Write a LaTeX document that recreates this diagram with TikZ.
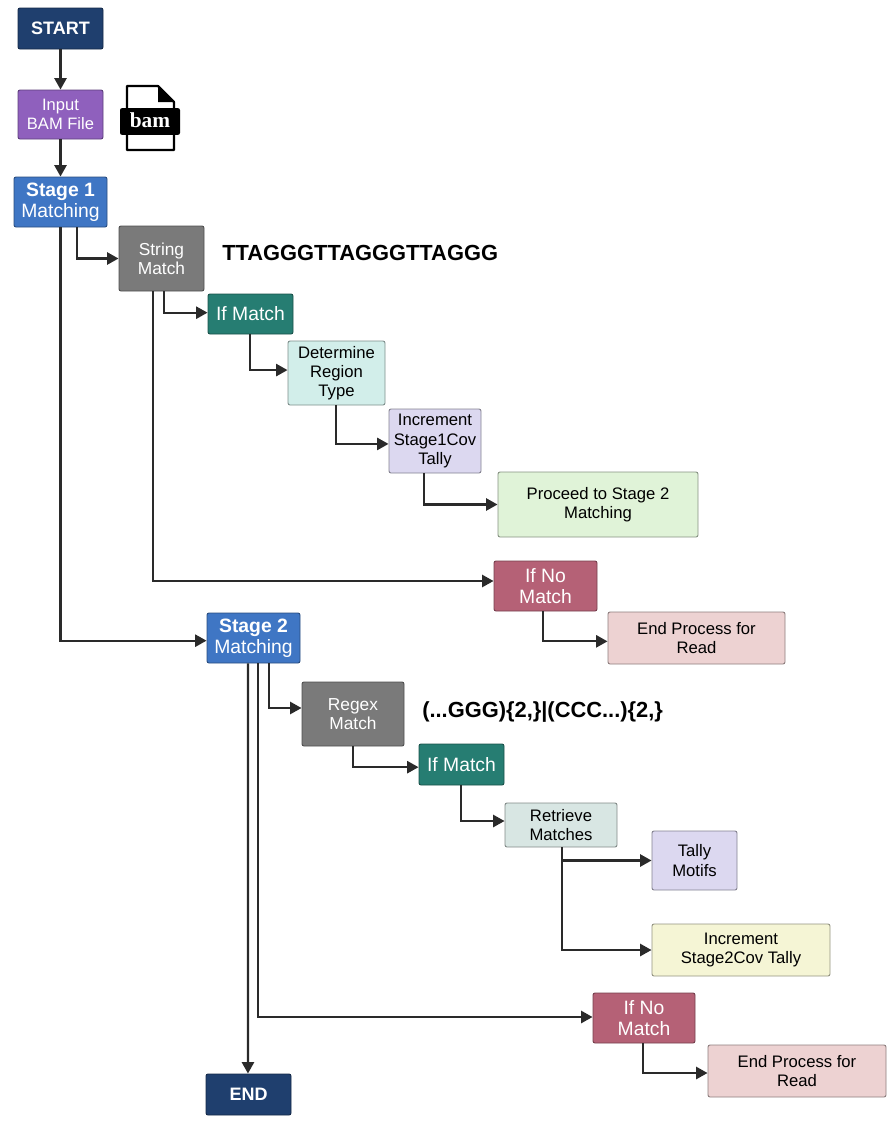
\documentclass[tikz,border=0pt]{standalone}
\usepackage{fontspec}
\setmainfont{Liberation Sans}
\usetikzlibrary{arrows.meta}
\definecolor{navybox}{HTML}{1F3F6E}
\definecolor{purplebox}{HTML}{8F60BD}
\definecolor{bluebox}{HTML}{3F76C4}
\definecolor{greybox}{HTML}{7A7A7A}
\definecolor{tealbox}{HTML}{267D72}
\definecolor{regionbox}{HTML}{D2EEEA}
\definecolor{tallybox}{HTML}{DCD8F0}
\definecolor{proceedbox}{HTML}{E0F3D8}
\definecolor{nomatchbox}{HTML}{B56176}
\definecolor{endbox}{HTML}{EDD2D2}
\definecolor{retrievebox}{HTML}{D8E6E3}
\definecolor{stagecovbox}{HTML}{F5F5D5}
\definecolor{flowcol}{HTML}{2A2A2A}
\tikzset{
  boxsize/.style 2 args={minimum width=#1*0.75pt, minimum height=#2*0.75pt},
  box/.style={rectangle, rounded corners=1.5pt, draw, line width=0.7pt, align=center, inner sep=0pt},
  darkbox/.style={box, fill=#1, draw=#1!65!black, text=white},
  lightbox/.style={box, fill=#1, draw=#1!60!black, text=black, font=\fontsize{12.5}{14.4}\selectfont},
  flow/.style={draw=flowcol, line width=1.7pt, -{Triangle[length=8.5pt,width=9pt]}},
  motif/.style={font=\bfseries\fontsize{16.4}{19}\selectfont, inner sep=0pt},
}
\begin{document}
\begin{tikzpicture}[x=0.75pt, y=-0.75pt]
  \useasboundingbox (0,0) rectangle (896,1122);

  \node[darkbox=navybox, boxsize={85}{41}, font=\bfseries\fontsize{13.5}{16}\selectfont] (start) at (60.5,28.5) {START};
  \node[darkbox=purplebox, boxsize={85}{49}, font=\fontsize{12.4}{14}\selectfont] (input) at (60.5,114.5) {Input\\BAM File};
  \node[darkbox=bluebox, boxsize={93}{50}, font=\fontsize{14.5}{16}\selectfont] (stageone) at (60.5,202) {\textbf{Stage 1}\\Matching};
  \node[darkbox=greybox, boxsize={85}{65}, font=\fontsize{13}{14.4}\selectfont] (stringmatch) at (161.5,258.5) {String\\Match};
  \node[motif, anchor=west] (stringseq) at (222,253) {TTAGGGTTAGGGTTAGGG};
  \node[darkbox=tealbox, boxsize={85}{40}, font=\fontsize{14.5}{16}\selectfont] (ifmatchone) at (250.5,314) {If Match};
  \node[lightbox=regionbox, boxsize={97}{64}] (region) at (336.5,373) {Determine\\Region\\Type};
  \node[lightbox=tallybox, boxsize={92}{64}] (covone) at (435,441) {Increment\\Stage1Cov\\Tally};
  \node[lightbox=proceedbox, boxsize={200}{65}] (proceed) at (598,504.5) {Proceed to Stage 2\\Matching};
  \node[darkbox=nomatchbox, boxsize={103}{50}, font=\fontsize{14.5}{16}\selectfont] (ifnoone) at (545.5,586) {If No\\Match};
  \node[lightbox=endbox, boxsize={177}{52}] (endone) at (696.5,638) {End Process for\\Read};

  \node[darkbox=bluebox, boxsize={93}{50}, font=\fontsize{14.5}{16}\selectfont] (stagetwo) at (253.5,638) {\textbf{Stage 2}\\Matching};
  \node[darkbox=greybox, boxsize={102}{64}, font=\fontsize{13}{14.4}\selectfont] (regexmatch) at (353,714) {Regex\\Match};
  \node[motif, anchor=west] (regexseq) at (422,712) {(...GGG)\{2,\}|(CCC...)\{2,\}};
  \node[darkbox=tealbox, boxsize={85}{41}, font=\fontsize{14.5}{16}\selectfont] (ifmatchtwo) at (461.5,764.5) {If Match};
  \node[lightbox=retrievebox, boxsize={112}{44}] (retrieve) at (561,825) {Retrieve\\Matches};
  \node[lightbox=tallybox, boxsize={85}{59}] (tally) at (694.5,860.5) {Tally\\Motifs};
  \node[lightbox=stagecovbox, boxsize={178}{52}] (covtwo) at (741,950) {Increment\\Stage2Cov Tally};
  \node[darkbox=nomatchbox, boxsize={102}{50}, font=\fontsize{14.5}{16}\selectfont] (ifnotwo) at (644,1018) {If No\\Match};
  \node[lightbox=endbox, boxsize={178}{52}] (endtwo) at (797,1071) {End Process for\\Read};
  \node[darkbox=navybox, boxsize={85}{41}, font=\bfseries\fontsize{13.5}{16}\selectfont] (finish) at (248.5,1094.5) {END};

  \draw[black, line width=1.6pt, fill=white, line join=round] (127,86) -- (158,86) -- (174,102) -- (174,150) -- (127,150) -- cycle;
  \fill[black] (158,86) -- (174,102) -- (158,102) -- cycle;
  \node[fill=black, text=white, rounded corners=1.5pt, minimum width=45pt, minimum height=20pt, inner sep=0pt, font=\bfseries\fontsize{16}{18}\selectfont] (bamicon) at (150,121.5) {\raisebox{1.5pt}{\fontspec{Liberation Serif}bam}};

  \draw[flow] (start) -- (input);
  \draw[flow] (input) -- (stageone);
  \draw[flow] (stageone.south) |- ([yshift=-2pt]stagetwo.west);
  \draw[flow] ([xshift=12.4pt]stageone.south) |- (stringmatch.west);
  \draw[flow] ([xshift=2pt]stringmatch.south) |- ([yshift=1pt]ifmatchone.west);
  \draw[flow] ([xshift=-6.4pt]stringmatch.south) |- ([yshift=3.75pt]ifnoone.west);
  \draw[flow] ([xshift=-.4pt]ifmatchone.south) |- ([yshift=2.2pt]region.west);
  \draw[flow] ([xshift=-.4pt]region.south) |- ([yshift=-2.2pt]covone.west);
  \draw[flow] ([xshift=-8pt]covone.south) |- (proceed.west);
  \draw[flow] ([xshift=-2pt]ifnoone.south) |- ([yshift=-2.5pt]endone.west);
  \draw[flow] ([xshift=11.6pt]stagetwo.south) |- ([yshift=4.5pt]regexmatch.west);
  \draw[flow] ([xshift=3.4pt]stagetwo.south) |- ([yshift=.75pt]ifnotwo.west);
  \draw[flow] ([xshift=-4.1pt]stagetwo.south) -- ([xshift=-.4pt]finish.north);
  \draw[flow] (regexmatch.south) |- ([yshift=-2pt]ifmatchtwo.west);
  \draw[flow] ([xshift=-.4pt]ifmatchtwo.south) |- ([yshift=3pt]retrieve.west);
  \draw[flow] ([xshift=.75pt]retrieve.south) |- (tally.west);
  \draw[flow] ([xshift=.75pt]retrieve.south) |- (covtwo.west);
  \draw[flow] ([xshift=-.75pt]ifnotwo.south) |- ([yshift=-1.5pt]endtwo.west);
\end{tikzpicture}
\end{document}
